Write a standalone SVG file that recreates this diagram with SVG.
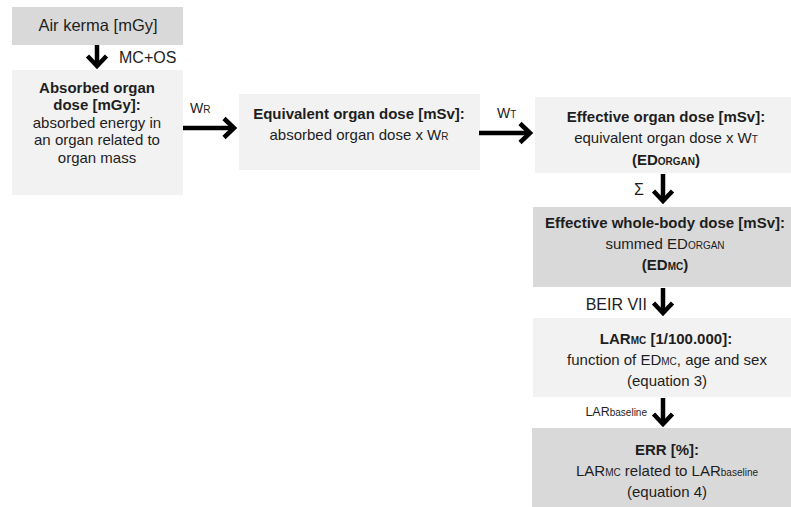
<svg xmlns="http://www.w3.org/2000/svg" width="791" height="507" viewBox="0 0 791 507">
<style>
text{font-family:"Liberation Sans",Arial,sans-serif;fill:#1e1e1e;font-size:15px;text-anchor:middle}
.b{font-weight:bold}
.l{text-anchor:start}
.e{text-anchor:end}
.sc{font-size:10px}
.light{fill:#f2f2f2}
.dark{fill:#d9d9d9}
.arr{stroke:#000;stroke-width:4.5;fill:none;marker-end:url(#head)}
</style>
<defs>
<marker id="head" markerUnits="userSpaceOnUse" markerWidth="24" markerHeight="26" refX="11" refY="11" orient="auto" overflow="visible">
<path d="M1,1.5 L11,11 L1,20.5" fill="none" stroke="#000" stroke-width="4.5"/>
</marker>
</defs>
<rect width="791" height="507" fill="#fff"/>
<g id="air-kerma">
<rect class="dark" x="12" y="7" width="171" height="38"/>
<text x="98" y="31" style="font-size:16.5px">Air kerma [mGy]</text>
</g>
<g id="absorbed">
<rect class="light" x="12" y="70" width="171" height="125"/>
<text class="b" x="97" y="93">Absorbed organ</text>
<text class="b" x="97" y="110">dose [mGy]:</text>
<text x="97" y="127.5">absorbed energy in</text>
<text x="97" y="145">an organ related to</text>
<text x="97" y="162.5">organ mass</text>
</g>
<g id="equivalent">
<rect class="light" x="239" y="94" width="241" height="76"/>
<text class="b" x="359" y="119">Equivalent organ dose [mSv]:</text>
<text x="359" y="140">absorbed organ dose x W<tspan class="sc">R</tspan></text>
</g>
<g id="effective-organ">
<rect class="light" x="535" y="97" width="256" height="76"/>
<text class="b" x="666" y="122">Effective organ dose [mSv]:</text>
<text x="666" y="143">equivalent organ dose x W<tspan class="sc">T</tspan></text>
<text class="b" x="666" y="164.5">(ED<tspan class="sc">ORGAN</tspan>)</text>
</g>
<g id="whole-body">
<rect class="dark" x="533" y="207" width="258" height="80"/>
<text class="b" x="665" y="228">Effective whole-body dose [mSv]:</text>
<text x="665" y="249">summed ED<tspan class="sc">ORGAN</tspan></text>
<text class="b" x="665" y="270">(ED<tspan class="sc">MC</tspan>)</text>
</g>
<g id="lar">
<rect class="light" x="533" y="318" width="258" height="79"/>
<text class="b" x="666" y="344">LAR<tspan class="sc">MC</tspan> [1/100.000]:</text>
<text x="667" y="365">function of ED<tspan class="sc">MC</tspan>, age and sex</text>
<text x="667" y="386">(equation 3)</text>
</g>
<g id="err">
<rect class="dark" x="532" y="428" width="259" height="79"/>
<text class="b" x="667" y="455">ERR [%]:</text>
<text x="667" y="476">LAR<tspan class="sc">MC</tspan> related to LAR<tspan class="sc">baseline</tspan></text>
<text x="667" y="497">(equation 4)</text>
</g>
<g id="connectors">
<path class="arr" d="M97,45 V66"/>
<path class="arr" d="M183,128 H234"/>
<path class="arr" d="M479,133 H530"/>
<path class="arr" d="M663,174 V201"/>
<path class="arr" d="M663,288 V313"/>
<path class="arr" d="M663,398 V424"/>
<text class="l" x="119" y="63" style="font-size:16px">MC+OS</text>
<text class="l" x="190" y="113" style="font-size:14px">W<tspan style="font-size:10px">R</tspan></text>
<text class="l" x="497" y="118" style="font-size:14px">W<tspan style="font-size:10px">T</tspan></text>
<text x="639" y="195" style="font-size:16px">Σ</text>
<text class="e" x="647" y="310" style="font-size:16px">BEIR VII</text>
<text class="e" x="647" y="416" style="font-size:12.5px">LAR<tspan style="font-size:10px">baseline</tspan></text>
</g>
</svg>
